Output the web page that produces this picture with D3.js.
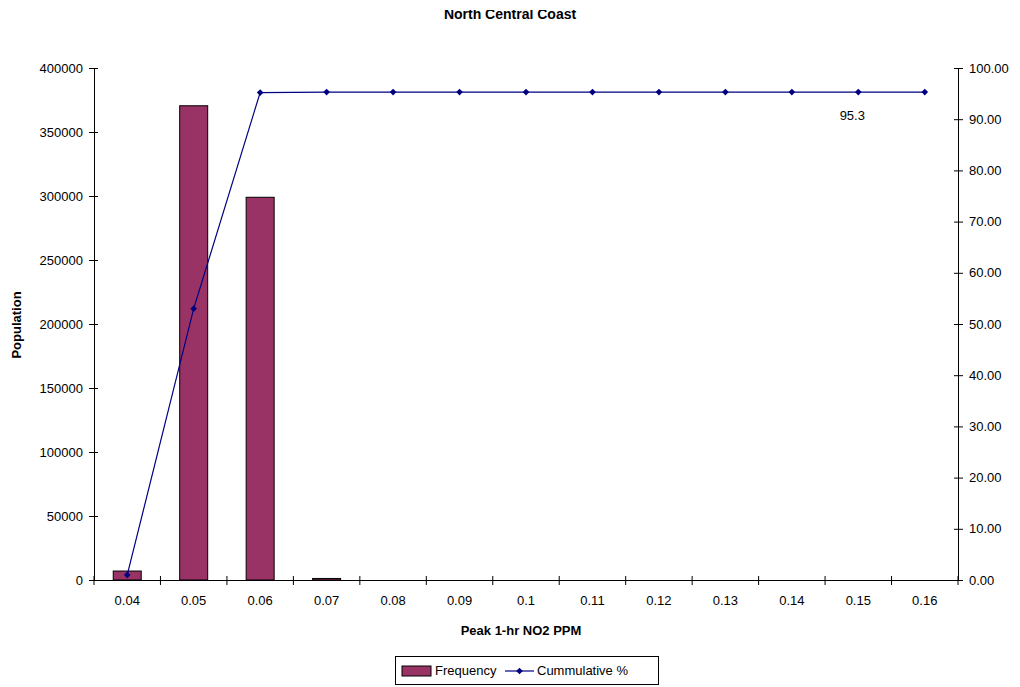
<!DOCTYPE html>
<html>
<head>
<meta charset="UTF-8">
<title>North Central Coast</title>
<script src="https://d3js.org/d3.v7.min.js"></script>
<style>
body { margin: 0; background: #fff; font-family: "Liberation Sans", Arial, sans-serif; }
svg { display: block; }
</style>
</head>
<body>
<script>
// values
var categories = ["0.04", "0.05", "0.06", "0.07", "0.08", "0.09", "0.1", "0.11", "0.12", "0.13", "0.14", "0.15", "0.16"];
var frequency = [7000, 370500, 299000, 1200, 0, 0, 0, 0, 0, 0, 0, 0, 0];
var cumulative = [1.0, 53.0, 95.2, 95.3, 95.3, 95.3, 95.3, 95.3, 95.3, 95.3, 95.3, 95.3, 95.3];
var leftTicks = [0, 50000, 100000, 150000, 200000, 250000, 300000, 350000, 400000];
var rightTicks = [0, 10, 20, 30, 40, 50, 60, 70, 80, 90, 100];

var width = 1020, height = 687;
var pLeft = 94, pRight = 958, pTop = 68, pBottom = 580;

var svg = d3.select("body").append("svg")
    .attr("width", width)
    .attr("height", height);

var x = d3.scaleBand().domain(categories).range([pLeft, pRight]);
var yL = d3.scaleLinear().domain([0, 400000]).range([pBottom, pTop]);
var yR = d3.scaleLinear().domain([0, 100]).range([pBottom, pTop]);

// title, top clipped like the original
svg.append("defs").append("clipPath").attr("id", "titleclip")
    .append("rect").attr("x", 0).attr("y", 10).attr("width", width).attr("height", 20);
svg.append("text")
    .attr("x", 510).attr("y", 19)
    .attr("text-anchor", "middle")
    .attr("clip-path", "url(#titleclip)")
    .attr("font-size", 14).attr("font-weight", "bold")
    .text("North Central Coast");

// bars
svg.append("g").selectAll("rect")
    .data(frequency)
    .enter().append("rect")
    .attr("x", function(d, i) { return x(categories[i]) + x.bandwidth() / 2 - 14; })
    .attr("width", 28)
    .attr("y", function(d) { return yL(d); })
    .attr("height", function(d) { return pBottom - yL(d); })
    .attr("fill", "#993366")
    .attr("stroke", "#000")
    .attr("stroke-width", 1);

// axes
var axL = svg.append("g")
    .attr("transform", "translate(" + pLeft + ",0)")
    .call(d3.axisLeft(yL).tickValues(leftTicks).tickSize(5).tickFormat(d3.format("d")));
var axR = svg.append("g")
    .attr("transform", "translate(" + pRight + ",0)")
    .call(d3.axisRight(yR).tickValues(rightTicks).tickSize(5).tickFormat(d3.format(".2f")));

var xTicks = d3.range(categories.length + 1).map(function(i) { return pLeft + i * x.bandwidth(); });
var axX = svg.append("g");
axX.append("line").attr("x1", pLeft).attr("x2", pRight).attr("y1", pBottom + 0.5).attr("y2", pBottom + 0.5).attr("stroke", "#000");
axX.selectAll("line.t").data(xTicks).enter().append("line")
    .attr("class", "t")
    .attr("x1", function(d) { return d; }).attr("x2", function(d) { return d; })
    .attr("y1", pBottom - 4).attr("y2", pBottom + 5)
    .attr("stroke", "#000");
axX.selectAll("text").data(categories).enter().append("text")
    .attr("x", function(d) { return x(d) + x.bandwidth() / 2; })
    .attr("y", pBottom + 25)
    .attr("text-anchor", "middle")
    .attr("font-size", 13)
    .text(function(d) { return d; });

[axL, axR].forEach(function(a) {
    a.select(".domain").attr("stroke", "#000");
    a.selectAll(".tick line").attr("stroke", "#000");
    a.selectAll("text").attr("font-size", 13).attr("fill", "#000")
        .attr("font-family", "'Liberation Sans', Arial, sans-serif");
});
axL.select(".domain").attr("d", "M0.5," + pTop + "V" + pBottom);
axR.select(".domain").attr("d", "M0.5," + pTop + "V" + pBottom);
axL.selectAll(".tick line").attr("x1", 4);
axR.selectAll(".tick line").attr("x1", -4);
axL.selectAll(".tick text").attr("x", -11);
axR.selectAll(".tick text").attr("x", 11);

// cumulative line
var diamond = d3.symbol(d3.symbolSquare, 22);
var pts = cumulative.map(function(d, i) { return [x(categories[i]) + x.bandwidth() / 2, yR(d)]; });
svg.append("path")
    .datum(pts)
    .attr("d", d3.line())
    .attr("fill", "none")
    .attr("stroke", "#000080")
    .attr("stroke-width", 1.2);
svg.append("g").selectAll("path")
    .data(pts)
    .enter().append("path")
    .attr("d", diamond)
    .attr("transform", function(d) { return "translate(" + d[0] + "," + d[1] + ") rotate(45)"; })
    .attr("fill", "#000080");

// data label
svg.append("text")
    .attr("x", pts[11][0] - 6).attr("y", pts[11][1] + 28)
    .attr("text-anchor", "middle")
    .attr("font-size", 13)
    .text(cumulative[11].toFixed(1));

// axis titles
svg.append("text")
    .attr("transform", "translate(21,325) rotate(-90)")
    .attr("text-anchor", "middle")
    .attr("font-size", 13).attr("font-weight", "bold")
    .text("Population");
svg.append("text")
    .attr("x", 521).attr("y", 635)
    .attr("text-anchor", "middle")
    .attr("font-size", 13).attr("font-weight", "bold")
    .text("Peak 1-hr NO2 PPM");

// legend
var lg = svg.append("g").attr("transform", "translate(395,656)");
lg.append("rect").attr("x", 0.5).attr("y", 0.5).attr("width", 263).attr("height", 28)
    .attr("fill", "#fff").attr("stroke", "#000");
lg.append("rect").attr("x", 7).attr("y", 10).attr("width", 29).attr("height", 10)
    .attr("fill", "#993366").attr("stroke", "#000");
lg.append("text").attr("x", 40).attr("y", 19).attr("font-size", 13).text("Frequency");
lg.append("line").attr("x1", 110).attr("x2", 139).attr("y1", 15).attr("y2", 15)
    .attr("stroke", "#000080").attr("stroke-width", 1.2);
lg.append("path").attr("d", diamond)
    .attr("transform", "translate(124.5,15) rotate(45)").attr("fill", "#000080");
lg.append("text").attr("x", 142).attr("y", 19).attr("font-size", 13).text("Cummulative %");
</script>
</body>
</html>
